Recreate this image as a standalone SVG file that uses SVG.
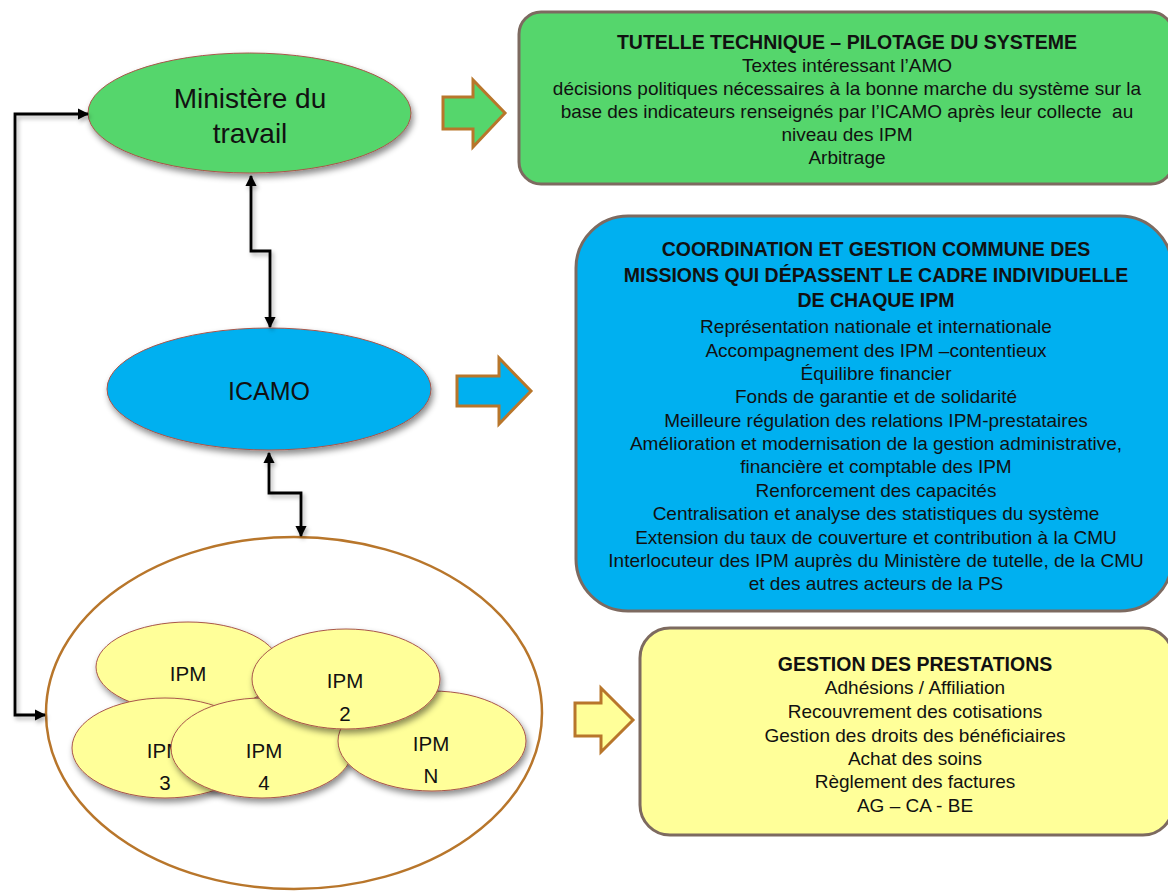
<svg xmlns="http://www.w3.org/2000/svg" width="1168" height="891" viewBox="0 0 1168 891">
<defs>
<filter id="sh" x="-20%" y="-20%" width="140%" height="150%">
<feDropShadow dx="2" dy="4" stdDeviation="3" flood-color="#000" flood-opacity="0.45"/>
</filter>
<filter id="lsh" x="-50%" y="-10%" width="200%" height="130%">
<feDropShadow dx="2" dy="3" stdDeviation="2" flood-color="#000" flood-opacity="0.3"/>
</filter>
<marker id="ah" viewBox="0 0 10 10" refX="9" refY="5" markerWidth="4" markerHeight="4" orient="auto-start-reverse" markerUnits="strokeWidth">
<path d="M0,0 L10,5 L0,10 Z" fill="#000"/>
</marker>
</defs>
<style>
.box{stroke:#7d6a60;stroke-width:3}
.barrow{stroke:#b8762b;stroke-width:3;stroke-linejoin:miter}
.ell{stroke:#a8564a;stroke-width:1}
.ipm{fill:#ffff99;stroke:#a8564a;stroke-width:1}
.con{fill:none;stroke:#000;stroke-width:2.8}
text{font-family:"Liberation Sans",Arial,sans-serif;fill:#111;text-anchor:middle}
.t{font-size:19.5px;font-weight:bold}
.b{font-size:19px}
.e{font-size:28px}
.i{font-size:20.5px}
</style>

<g id="ministere">
<ellipse cx="249.5" cy="113" rx="161.5" ry="60" fill="#55d66c" class="ell" filter="url(#sh)"/>
<text class="e" x="250" y="108">Ministère du</text>
<text class="e" x="250" y="143">travail</text>
</g>

<g id="icamo">
<ellipse cx="269" cy="389" rx="162" ry="61" fill="#00b0f0" class="ell" filter="url(#sh)"/>
<text class="e" x="269" y="400" style="font-size:25px">ICAMO</text>
</g>

<g id="ipm-groupe">
<ellipse cx="294" cy="713" rx="248" ry="176" fill="#fff" stroke="#b8762b" stroke-width="2.5"/>
</g>

<g id="ipm1">
<ellipse cx="188" cy="667" rx="92" ry="45" class="ipm" filter="url(#sh)"/>
<text class="i" x="188" y="681">IPM</text>
<text class="i" x="188" y="713">1</text>
</g>
<g id="ipm3">
<ellipse cx="165" cy="748" rx="93" ry="50" class="ipm" filter="url(#sh)"/>
<text class="i" x="165" y="758">IPM</text>
<text class="i" x="165" y="790">3</text>
</g>
<g id="ipm4">
<ellipse cx="262" cy="748" rx="91" ry="50" class="ipm" filter="url(#sh)"/>
<text class="i" x="264" y="758">IPM</text>
<text class="i" x="264" y="790">4</text>
</g>
<g id="ipmN">
<ellipse cx="432" cy="741" rx="94" ry="50" class="ipm" filter="url(#sh)"/>
<text class="i" x="431" y="751">IPM</text>
<text class="i" x="431" y="783">N</text>
</g>
<g id="ipm2">
<ellipse cx="346" cy="679" rx="94" ry="50" class="ipm" filter="url(#sh)"/>
<text class="i" x="345" y="688">IPM</text>
<text class="i" x="345" y="721">2</text>
</g>

<g id="fleches-blocs">
<path class="barrow" fill="#55d66c" d="M443,97 H473 V80 L505,113 L473,147 V129 H443 Z"/>
<path class="barrow" fill="#00b0f0" d="M457,376 H499 V358 L531,391 L499,424 V406 H457 Z"/>
<path class="barrow" fill="#ffff99" d="M575,703 H601 V688 L633,720 L601,752 V736 H575 Z"/>
</g>

<g id="tutelle">
<rect class="box" x="519" y="12" width="654" height="172" rx="22" fill="#55d66c"/>
<text class="t" x="847" y="49">TUTELLE TECHNIQUE – PILOTAGE DU SYSTEME</text>
<text class="b" x="847" y="72">Textes intéressant l’AMO</text>
<text class="b" x="847" y="95">décisions politiques nécessaires à la bonne marche du système sur la</text>
<text class="b" x="847" y="118" xml:space="preserve">base des indicateurs renseignés par l’ICAMO après leur collecte  au</text>
<text class="b" x="847" y="141">niveau des IPM</text>
<text class="b" x="847" y="164">Arbitrage</text>
</g>

<g id="coordination">
<rect class="box" x="576" y="216" width="596" height="395" rx="52" fill="#00b0f0"/>
<text class="t" x="876" y="256">COORDINATION ET GESTION COMMUNE DES</text>
<text class="t" x="876" y="282">MISSIONS QUI DÉPASSENT LE CADRE INDIVIDUELLE</text>
<text class="t" x="876" y="307">DE CHAQUE IPM</text>
<text class="b" x="876" y="333">Représentation nationale et internationale</text>
<text class="b" x="876" y="357">Accompagnement des IPM –contentieux</text>
<text class="b" x="876" y="380">Équilibre financier</text>
<text class="b" x="876" y="403">Fonds de garantie et de solidarité</text>
<text class="b" x="876" y="427">Meilleure régulation des relations IPM-prestataires</text>
<text class="b" x="876" y="450">Amélioration et modernisation de la gestion administrative,</text>
<text class="b" x="876" y="473">financière et comptable des IPM</text>
<text class="b" x="876" y="497">Renforcement des capacités</text>
<text class="b" x="876" y="520">Centralisation et analyse des statistiques du système</text>
<text class="b" x="876" y="544">Extension du taux de couverture et contribution à la CMU</text>
<text class="b" x="876" y="567">Interlocuteur des IPM auprès du Ministère de tutelle, de la CMU</text>
<text class="b" x="876" y="590">et des autres acteurs de la PS</text>
</g>

<g id="prestations">
<rect class="box" x="640" y="628" width="533" height="207" rx="30" fill="#ffff99"/>
<text class="t" x="915" y="671">GESTION DES PRESTATIONS</text>
<text class="b" x="915" y="694">Adhésions / Affiliation</text>
<text class="b" x="915" y="718">Recouvrement des cotisations</text>
<text class="b" x="915" y="742">Gestion des droits des bénéficiaires</text>
<text class="b" x="915" y="765">Achat des soins</text>
<text class="b" x="915" y="788">Règlement des factures</text>
<text class="b" x="915" y="812">AG – CA - BE</text>
</g>

<g id="connecteurs" filter="url(#lsh)">
<path class="con" d="M251,176 V251 H270 V327" marker-start="url(#ah)" marker-end="url(#ah)"/>
<path class="con" d="M269,453 V493 H301 V536" marker-start="url(#ah)" marker-end="url(#ah)"/>
<path class="con" d="M88,114 H15 V715 H45" marker-start="url(#ah)" marker-end="url(#ah)"/>
</g>
</svg>
